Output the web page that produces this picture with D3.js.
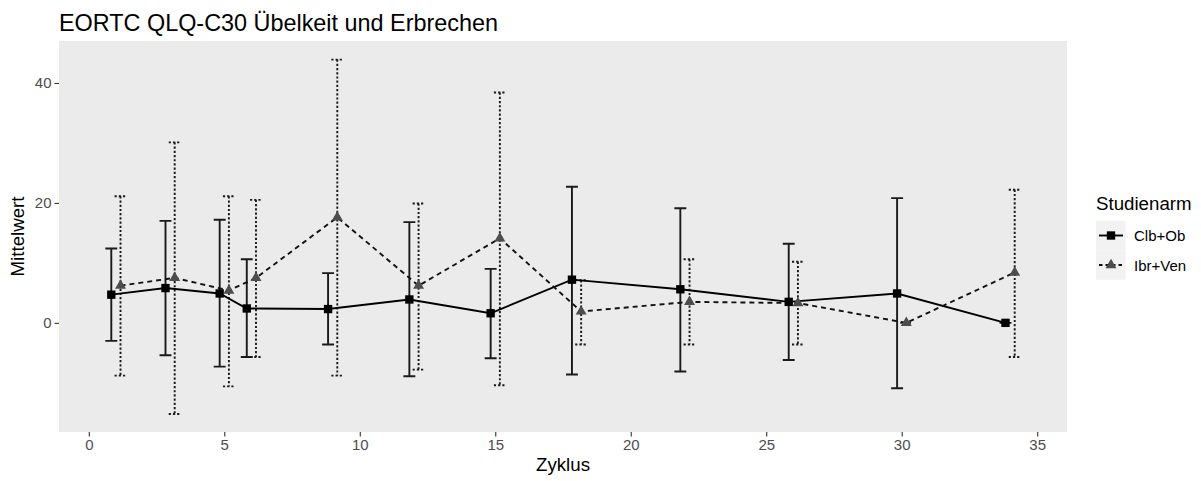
<!DOCTYPE html>
<html><head><meta charset="utf-8">
<script src="https://cdn.jsdelivr.net/npm/d3@7"></script>
<style>body{margin:0;background:#fff}svg{display:block;font-family:"Liberation Sans",Arial,sans-serif}</style>
</head><body><svg id="c" width="1201" height="481"></svg>
<script>
const cycles = [1,3,5,6,9,12,15,18,22,26,30,34];
const clbMean  = [4.7,5.8,4.9,2.4,2.3,3.9,1.6,7.2,5.6,3.5,4.9,0];
const clbLower = [-3.0,-5.4,-7.3,-5.7,-3.6,-8.9,-5.9,-8.6,-8.1,-6.2,-10.9,0];
const clbUpper = [12.4,17.0,17.2,10.6,8.3,16.8,9.0,22.7,19.1,13.2,20.8,0];
const ibrMean  = [6.2,7.5,5.4,7.5,17.6,6.2,14.1,1.9,3.5,3.3,0,8.4];
const ibrLower = [-8.8,-15.2,-10.6,-5.7,-8.8,-7.8,-10.4,-3.6,-3.6,-3.6,0,-5.7];
const ibrUpper = [21.1,30.1,21.1,20.5,43.9,19.9,38.4,7.1,10.6,10.2,0,22.2];
const xTicks = [0,5,10,15,20,25,30,35];
const yTicks = [0,20,40];
const armNames = ["Clb+Ob","Ibr+Ven"];

const svg = d3.select("#c");
const L=59,R=1067,T=41,B=432;
const x = d3.scaleLinear().domain([-1.1,36.1]).range([L,R]);
const y = d3.scaleLinear().domain([-18.2,47]).range([B,T]);
const dodge = 0.17, capW = 0.22;

svg.append("rect").attr("x",L).attr("y",T).attr("width",R-L).attr("height",B-T).attr("fill","#EBEBEB");

const arms = [
  {name:armNames[0], off:-dodge, mean:clbMean, lo:clbLower, hi:clbUpper, lineDash:null, barDash:null, color:"#000", pt:"#000", sym:d3.symbolSquare, size:70},
  {name:armNames[1], off:dodge, mean:ibrMean, lo:ibrLower, hi:ibrUpper, lineDash:"5,4", barDash:"2.2,2", color:"#111", pt:"#4D4D4D", sym:d3.symbolTriangle, size:52}
];

arms.forEach(a=>{
  const d = cycles.map((c,i)=>({x:c+a.off, m:a.mean[i], lo:a.lo[i], hi:a.hi[i]}));
  const g = svg.append("g");
  d.forEach(p=>{
    const path = d3.path();
    path.moveTo(x(p.x-capW), y(p.hi)); path.lineTo(x(p.x+capW), y(p.hi));
    path.moveTo(x(p.x), y(p.hi)); path.lineTo(x(p.x), y(p.lo));
    path.moveTo(x(p.x-capW), y(p.lo)); path.lineTo(x(p.x+capW), y(p.lo));
    g.append("path").attr("d",path.toString()).attr("fill","none").attr("stroke","#1a1a1a")
      .attr("stroke-width",1.9).attr("stroke-dasharray",a.barDash);
  });
  a.d = d;
});
arms.forEach(a=>{
  svg.append("path").datum(a.d).attr("d",d3.line().x(p=>x(p.x)).y(p=>y(p.m)))
    .attr("fill","none").attr("stroke",a.color).attr("stroke-width",1.9).attr("stroke-dasharray",a.lineDash);
});
arms.forEach(a=>{
  svg.append("g").selectAll("path").data(a.d).join("path")
    .attr("d",d3.symbol().type(a.sym).size(a.size))
    .attr("transform",p=>`translate(${x(p.x)},${y(p.m)})`).attr("fill",a.pt);
});

// axes
const xa = svg.append("g").attr("transform",`translate(0,${B})`)
  .call(d3.axisBottom(x).tickValues(xTicks).tickSize(4.5).tickPadding(3).tickFormat(d3.format("d")));
const ya = svg.append("g").attr("transform",`translate(${L},0)`)
  .call(d3.axisLeft(y).tickValues(yTicks).tickSize(4.5).tickPadding(3).tickFormat(d3.format("d")));
[xa,ya].forEach(a=>{
  a.select(".domain").remove();
  a.selectAll("line").attr("stroke","#333").attr("stroke-width",1.1);
  a.selectAll("text").attr("fill","#4D4D4D").style("font-size","15px").style("font-family","Liberation Sans, Arial, sans-serif");
});

svg.append("text").attr("x",L).attr("y",31).text("EORTC QLQ-C30 Übelkeit und Erbrechen").style("font-size","23.4px").attr("fill","#000");
svg.append("text").attr("x",(L+R)/2).attr("y",471).attr("text-anchor","middle").text("Zyklus").style("font-size","18.7px");
svg.append("text").attr("transform",`translate(24,${(T+B)/2}) rotate(-90)`).attr("text-anchor","middle").text("Mittelwert").style("font-size","18.7px");

// legend
const lg = svg.append("g");
lg.append("text").attr("x",1096).attr("y",210).text("Studienarm").style("font-size","18.7px");
arms.forEach((a,i)=>{
  const cy = 235.5 + i*29.5;
  lg.append("rect").attr("x",1096).attr("y",cy-14.75).attr("width",29.5).attr("height",29.5).attr("fill","#F2F2F2");
  lg.append("line").attr("x1",1099).attr("x2",1123).attr("y1",cy).attr("y2",cy)
    .attr("stroke",a.color).attr("stroke-width",1.9).attr("stroke-dasharray",a.lineDash ? "3.5,3" : null);
  lg.append("path").attr("d",d3.symbol().type(a.sym).size(a.size)).attr("transform",`translate(1111,${cy})`).attr("fill",a.pt);
  lg.append("text").attr("x",1134).attr("y",cy+5.5).text(a.name).style("font-size","15px");
});
</script></body></html>
